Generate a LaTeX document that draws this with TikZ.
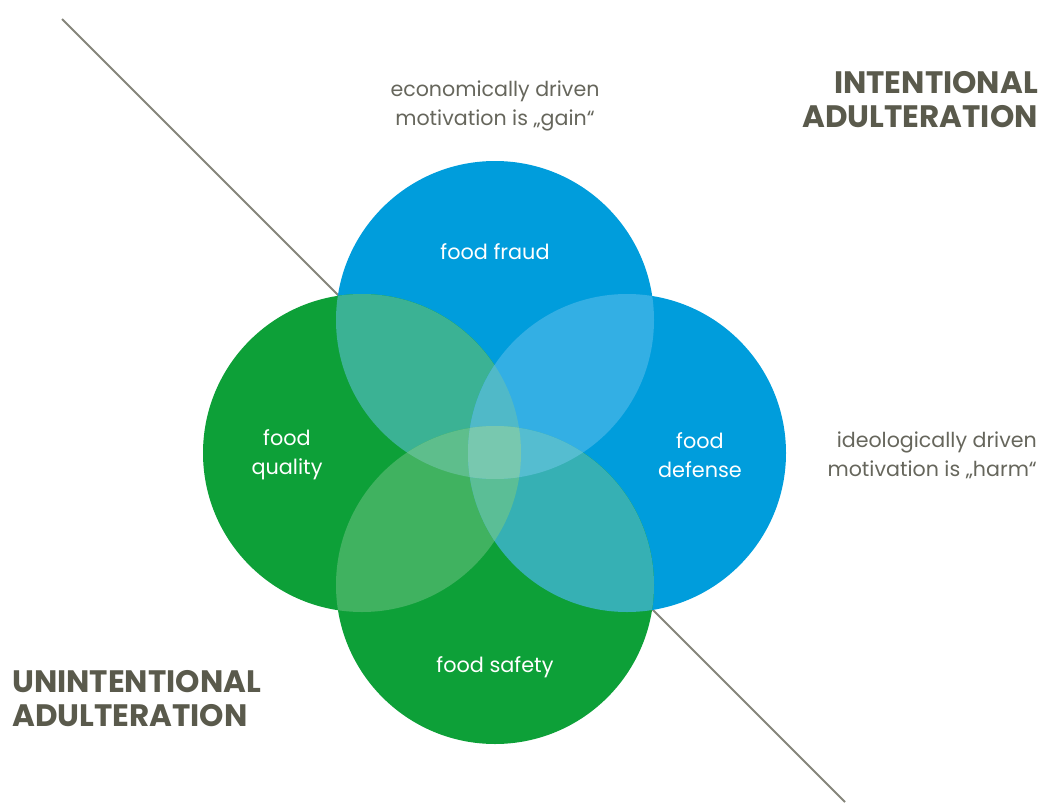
\documentclass[tikz,border=0pt]{standalone}
\usepackage{fontspec}
\setmainfont{Poppins}
\definecolor{fraudblue}{HTML}{009DDC}
\definecolor{qualgreen}{HTML}{0DA038}
\definecolor{tealtl}{HTML}{3BB294}
\definecolor{bluetr}{HTML}{33AFE4}
\definecolor{greenbl}{HTML}{40B260}
\definecolor{tealbr}{HTML}{36B0B4}
\definecolor{lenstop}{HTML}{50B9C8}
\definecolor{lensleft}{HTML}{5EBE8C}
\definecolor{lensright}{HTML}{55BDD0}
\definecolor{lensbottom}{HTML}{5BBE96}
\definecolor{core}{HTML}{78C8AF}
\definecolor{linegray}{HTML}{85857A}
\definecolor{notegray}{HTML}{66665C}
\definecolor{headgray}{HTML}{5A5A4C}
\begin{document}
\begin{tikzpicture}[x=1pt,y=-1pt,
    label/.style={text=white,font=\fontsize{20.8}{29}\selectfont,align=center,inner sep=0pt},
    note/.style={text=notegray,font=\fontsize{20.6}{29}\selectfont,inner sep=0pt},
    heading/.style={text=headgray,font=\bfseries\fontsize{31}{34}\selectfont,inner sep=0pt}]
    \useasboundingbox (0,0) rectangle (1039,803);
    \coordinate (start) at (62,19);
    \coordinate (end) at (845,802);
    \draw[linegray, line width=2pt] (start) -- (end);
    \coordinate (fraud) at (495,320);
    \coordinate (quality) at (362,453);
    \coordinate (defense) at (627,453);
    \coordinate (safety) at (495,585);
    \fill[fraudblue] (fraud) circle (159pt);
    \fill[fraudblue] (defense) circle (159pt);
    \fill[qualgreen] (quality) circle (159pt);
    \fill[qualgreen] (safety) circle (159pt);
    \begin{scope}
        \clip (fraud) circle (159pt);
        \fill[tealtl] (quality) circle (159pt);
        \fill[bluetr] (defense) circle (159pt);
    \end{scope}
    \begin{scope}
        \clip (safety) circle (159pt);
        \fill[greenbl] (quality) circle (159pt);
        \fill[tealbr] (defense) circle (159pt);
    \end{scope}
    \begin{scope}
        \clip (quality) circle (159pt);
        \clip (defense) circle (159pt);
        \fill[lenstop] (fraud) circle (159pt);
        \fill[lensbottom] (safety) circle (159pt);
    \end{scope}
    \begin{scope}
        \clip (fraud) circle (159pt);
        \clip (safety) circle (159pt);
        \fill[lensleft] (quality) circle (159pt);
        \fill[lensright] (defense) circle (159pt);
        \clip (quality) circle (159pt);
        \fill[core] (defense) circle (159pt);
    \end{scope}
    \node[label] (fraudtext) at (495,252) {food fraud};
    \node[label] (qualitytext) at (287,455) {food\\quality};
    \node[label] (defensetext) at (700,455) {food\\defense};
    \node[label] (safetytext) at (495,667) {food safety};
    \node[note, align=center] (gain) at (495,106) {economically driven\\motivation is „gain“};
    \node[note, align=right, anchor=east] (harm) at (1037,455) {ideologically driven\\motivation is „harm“};
    \node[heading, align=right, anchor=east] (intent) at (1038,100) {INTENTIONAL\\ADULTERATION};
    \node[heading, align=left, anchor=west] (unintent) at (12,699) {UNINTENTIONAL\\ADULTERATION};
\end{tikzpicture}
\end{document}
